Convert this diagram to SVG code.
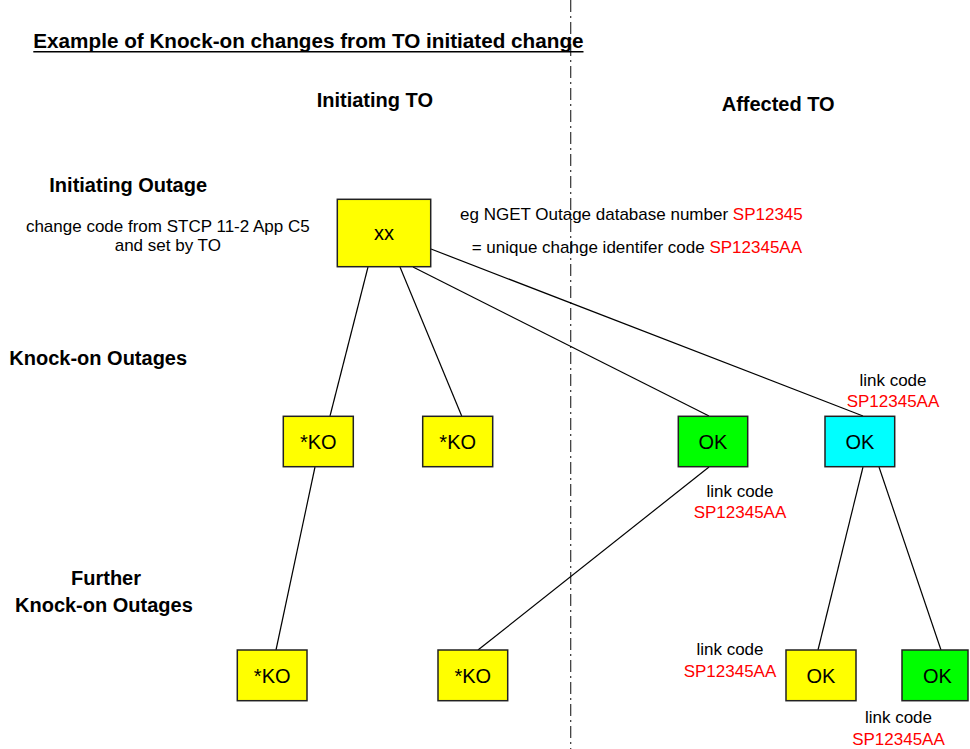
<svg xmlns="http://www.w3.org/2000/svg" width="970" height="749" viewBox="0 0 970 749">
<style>
text{font-family:"Liberation Sans",Arial,sans-serif;fill:#000}
.h{font-weight:bold;font-size:20px}
.n{font-size:17px}
.r{fill:#ff0000}
.lbl{font-size:20px;text-anchor:middle}
.box{stroke:#222;stroke-width:1.5}
.y{fill:#ffff00}.g{fill:#00ff00}.c{fill:#00ffff}
.con line{stroke:#000;stroke-width:1.2}
</style>
<rect width="970" height="749" fill="#fff"/>
<line x1="570.7" y1="0" x2="570.7" y2="749" stroke="#333" stroke-width="1.2" stroke-dasharray="12 4 2 4"/>
<g id="title">
<text class="h" x="33.3" y="48.3" style="font-size:20.7px">Example of Knock-on changes from TO initiated change</text>
<line x1="33.3" y1="51.8" x2="583.5" y2="51.8" stroke="#000" stroke-width="1.5"/>
</g>
<text class="h" x="316.7" y="107">Initiating TO</text>
<text class="h" x="721.7" y="111">Affected TO</text>
<text class="h" x="49.3" y="192.3">Initiating Outage</text>
<text class="n" x="167.8" y="232" text-anchor="middle">change code from STCP 11-2 App C5</text>
<text class="n" x="167.8" y="251" text-anchor="middle">and set by TO</text>
<text class="h" x="9.3" y="365">Knock-on Outages</text>
<text class="h" x="106" y="585" text-anchor="middle">Further</text>
<text class="h" x="15" y="611.7">Knock-on Outages</text>
<text class="n" x="460" y="220">eg NGET Outage database number <tspan class="r">SP12345</tspan></text>
<text class="n" x="471.7" y="253">= unique chahge identifer code <tspan class="r">SP12345AA</tspan></text>
<g class="con" id="connectors">
<line x1="368" y1="267" x2="330" y2="416"/>
<line x1="400" y1="267" x2="461.7" y2="416"/>
<line x1="413" y1="267" x2="709" y2="416"/>
<line x1="431" y1="249" x2="863" y2="416"/>
<line x1="315" y1="467" x2="276" y2="650"/>
<line x1="709" y1="467" x2="478" y2="650"/>
<line x1="863" y1="467" x2="818" y2="650"/>
<line x1="879" y1="467" x2="941" y2="650"/>
</g>
<g id="n-xx"><rect class="box y" x="337.3" y="199.3" width="93.4" height="67.4"/><text class="lbl" x="384" y="240">xx</text></g>
<g id="n-ko1"><rect class="box y" x="283.3" y="416.3" width="70" height="50.4"/><text class="lbl" x="318.3" y="449">*KO</text></g>
<g id="n-ko2"><rect class="box y" x="422.7" y="416.3" width="70" height="50.4"/><text class="lbl" x="457.7" y="449">*KO</text></g>
<g id="n-ok1"><rect class="box g" x="678.3" y="416.3" width="69.4" height="50.4"/><text class="lbl" x="713" y="449">OK</text></g>
<g id="n-ok2"><rect class="box c" x="825" y="416.3" width="69.7" height="50.4"/><text class="lbl" x="860" y="449">OK</text></g>
<g id="n-ko3"><rect class="box y" x="237.3" y="650" width="69.7" height="50.7"/><text class="lbl" x="272.2" y="683">*KO</text></g>
<g id="n-ko4"><rect class="box y" x="438" y="650" width="69.7" height="50.7"/><text class="lbl" x="472.8" y="683">*KO</text></g>
<g id="n-ok3"><rect class="box y" x="786" y="650" width="70" height="50.7"/><text class="lbl" x="821" y="683">OK</text></g>
<g id="n-ok4"><rect class="box g" x="902" y="650" width="66" height="50.7"/><text class="lbl" x="937.5" y="683">OK</text></g>
<g id="link-labels" class="n" text-anchor="middle">
<text class="n" x="893" y="386" text-anchor="middle">link code</text>
<text class="n r" x="893" y="407.3" text-anchor="middle">SP12345AA</text>
<text class="n" x="740" y="496.7" text-anchor="middle">link code</text>
<text class="n r" x="740" y="518.3" text-anchor="middle">SP12345AA</text>
<text class="n" x="730" y="655" text-anchor="middle">link code</text>
<text class="n r" x="730" y="676.7" text-anchor="middle">SP12345AA</text>
<text class="n" x="898.5" y="723.3" text-anchor="middle">link code</text>
<text class="n r" x="898.5" y="745" text-anchor="middle">SP12345AA</text>
</g>
</svg>
